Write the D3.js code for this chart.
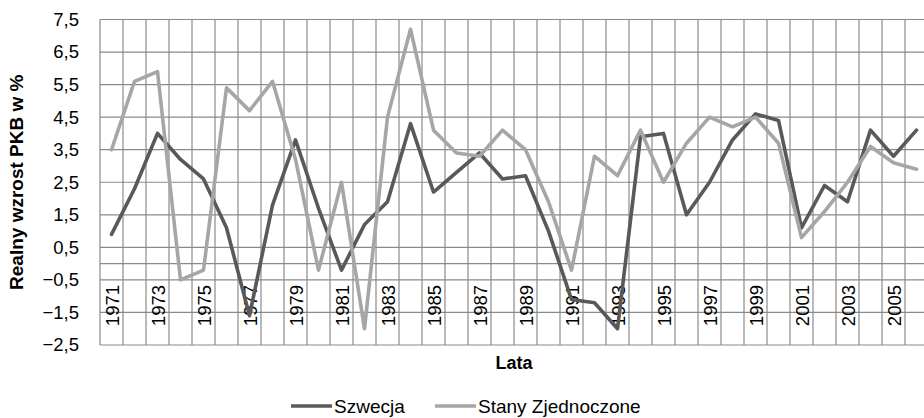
<!DOCTYPE html>
<html><head><meta charset="utf-8">
<script src="https://cdn.jsdelivr.net/npm/d3@7"></script>
<style>
html,body{margin:0;padding:0;background:#fff;}
svg{display:block;overflow:hidden;}
text{font-family:"Liberation Sans",Arial,sans-serif;fill:#000;}
</style></head>
<body>
<svg id="c" width="924" height="418"></svg>
<script>
const years = [1971,1972,1973,1974,1975,1976,1977,1978,1979,1980,1981,1982,1983,1984,1985,1986,1987,1988,1989,1990,1991,1992,1993,1994,1995,1996,1997,1998,1999,2000,2001,2002,2003,2004,2005,2006];
const szwecja = [0.9,2.3,4.0,3.2,2.6,1.1,-1.6,1.8,3.8,1.7,-0.2,1.2,1.9,4.3,2.2,2.8,3.4,2.6,2.7,1.0,-1.1,-1.2,-2.0,3.9,4.0,1.5,2.5,3.8,4.6,4.4,1.1,2.4,1.9,4.1,3.3,4.1];
const usa = [3.5,5.6,5.9,-0.5,-0.2,5.4,4.7,5.6,3.2,-0.2,2.5,-2.0,4.5,7.2,4.1,3.4,3.3,4.1,3.5,1.9,-0.2,3.3,2.7,4.1,2.5,3.7,4.5,4.2,4.5,3.7,0.8,1.6,2.5,3.6,3.1,2.9];
const yTicks = [-2.5,-1.5,-0.5,0.5,1.5,2.5,3.5,4.5,5.5,6.5,7.5];
const seriesNames = ["Szwecja","Stany Zjednoczone"];
const colors = ["#595959","#a6a6a6"];

const svg = d3.select("#c");
const L = 100, R = 928, T = 19.5, B = 345;
const x = d3.scaleBand().domain(years).range([L, R]);
const y = d3.scaleLinear().domain([-2.5, 7.5]).range([B, T]);
const grid = "#8a8a8a";

// vertical gridlines at category boundaries
const bounds = years.map(d => x(d)).concat([R]);
svg.append("g").selectAll("line").data(bounds).join("line")
  .attr("x1", d => d).attr("x2", d => d).attr("y1", T).attr("y2", B)
  .attr("stroke", grid).attr("stroke-width", 1.2);
// horizontal gridlines
svg.append("g").selectAll("line").data(yTicks).join("line")
  .attr("x1", L).attr("x2", R).attr("y1", d => y(d)).attr("y2", d => y(d))
  .attr("stroke", grid).attr("stroke-width", 1.2);
// category axis at 0
svg.append("line").attr("x1", L).attr("x2", R).attr("y1", y(0)).attr("y2", y(0))
  .attr("stroke", grid).attr("stroke-width", 1.2);

// y axis labels
const yAxis = d3.axisLeft(y).tickValues(yTicks).tickSize(0).tickPadding(0)
  .tickFormat(d => d3.format(".1f")(d).replace(".", ","));
const gy = svg.append("g").attr("transform", `translate(${L - 21},0)`).call(yAxis);
gy.select(".domain").remove();
gy.selectAll("text").style("font-size", "18.5px").style("font-family", '"Liberation Sans",Arial,sans-serif').attr("fill", "#000");

// x axis labels (every 2nd year, rotated)
const xLabelYears = years.filter((d, i) => i % 2 === 0);
svg.append("g").selectAll("text").data(xLabelYears).join("text")
  .attr("transform", d => `translate(${x(d) + x.bandwidth()/2 + 1.5},${285}) rotate(-90)`)
  .attr("text-anchor", "end").attr("dy", "0.35em")
  .style("font-size", "18.5px").text(d => d);

// lines
const line = d3.line().x((d, i) => x(years[i]) + x.bandwidth()/2).y(d => y(d));
[szwecja, usa].forEach((s, k) => {
  svg.append("path").datum(s).attr("d", line).attr("fill", "none")
    .attr("stroke", colors[k]).attr("stroke-width", 3.6)
    .attr("stroke-linejoin", "round").attr("stroke-linecap", "round");
});

// axis titles
svg.append("text").attr("transform", `translate(23,${(T + B)/2}) rotate(-90)`)
  .attr("text-anchor", "middle").style("font-size", "19px").style("font-weight", "bold")
  .text("Realny wzrost PKB w %");
svg.append("text").attr("x", (L + R)/2).attr("y", 363).attr("dy", "0.35em")
  .attr("text-anchor", "middle").style("font-size", "18px").style("font-weight", "bold")
  .text("Lata");

// legend
const legX = [291, 435];
const legY = 406;
seriesNames.forEach((n, k) => {
  svg.append("line").attr("x1", legX[k]).attr("x2", legX[k] + 41)
    .attr("y1", legY).attr("y2", legY).attr("stroke", colors[k]).attr("stroke-width", 3.6);
  svg.append("text").attr("x", legX[k] + 43).attr("y", legY).attr("dy", "0.35em")
    .style("font-size", "19px").text(n);
});
</script>
</body></html>
